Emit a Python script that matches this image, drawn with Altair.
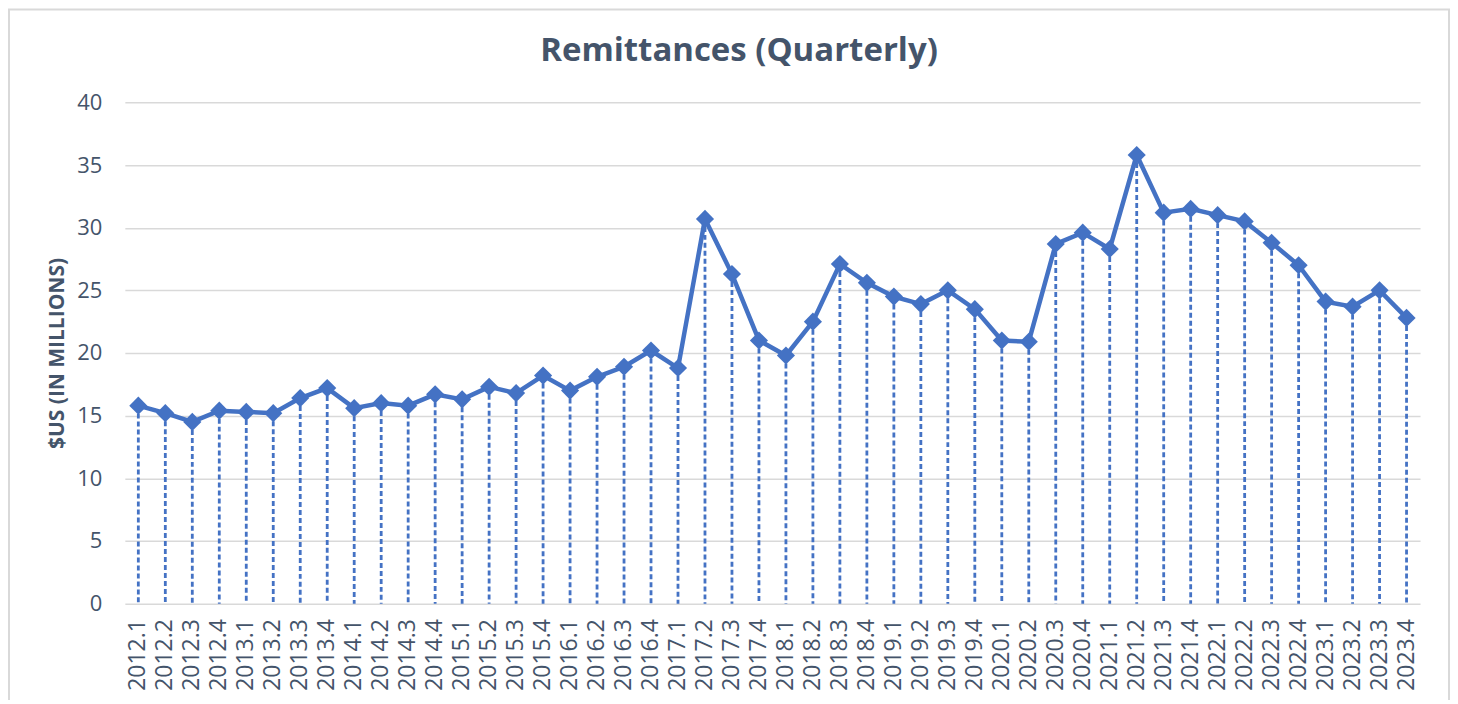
import altair as alt
import pandas as pd

quarters = [f"{y}.{q}" for y in range(2012, 2024) for q in range(1, 5)]
values = [
    15.8, 15.2, 14.5, 15.4,
    15.3, 15.2, 16.4, 17.2,
    15.6, 16.0, 15.8, 16.7,
    16.3, 17.3, 16.8, 18.2,
    17.0, 18.1, 18.9, 20.2,
    18.8, 30.7, 26.3, 21.0,
    19.8, 22.5, 27.1, 25.6,
    24.5, 23.9, 25.0, 23.5,
    21.0, 20.9, 28.7, 29.6,
    28.3, 35.8, 31.2, 31.5,
    31.0, 30.5, 28.8, 27.0,
    24.1, 23.7, 25.0, 22.8,
]
title_text = ["Remittances (Quarterly)"]

df = pd.DataFrame({"quarter": quarters, "value": values})

BLUE = "#4472C4"
TEXT = "#44546A"
FONT = "Open Sans"

x_enc = alt.X(
    "quarter:N",
    sort=None,
    scale=alt.Scale(paddingInner=0, paddingOuter=0),
    axis=alt.Axis(
        title=None,
        labelAngle=270,
        labelFontSize=23,
        labelColor=TEXT,
        labelFont=FONT,
        labelPadding=15,
        domain=False,
        ticks=False,
        grid=False,
    ),
)
y_scale = alt.Scale(domain=[0, 40], nice=False)
y_enc = alt.Y(
    "value:Q",
    scale=y_scale,
    axis=alt.Axis(
        title="$US (IN MILLIONS)",
        titleFontSize=21,
        titleFontWeight="bold",
        titleColor=TEXT,
        titleFont=FONT,
        titlePadding=9,
        values=[0, 5, 10, 15, 20, 25, 30, 35, 40],
        labelFontSize=22,
        labelColor=TEXT,
        labelFont=FONT,
        labelPadding=23,
        domain=False,
        ticks=False,
        grid=True,
        gridColor="#D9D9D9",
        gridWidth=1.5,
    ),
)

base = alt.Chart(df)

rules = base.mark_rule(
    color=BLUE, strokeWidth=2.8, strokeDash=[5, 3]
).encode(x=x_enc, y=alt.Y("value:Q", scale=y_scale), y2=alt.datum(0))

line = base.mark_line(color=BLUE, strokeWidth=4.5).encode(x=x_enc, y=y_enc)

points = base.mark_point(
    shape="diamond", filled=True, size=330, color=BLUE, opacity=1
).encode(x=x_enc, y="value:Q")

one = pd.DataFrame({"title": title_text})

frame = alt.Chart(one).mark_rect(
    fill=None, stroke="#D9D9D9", strokeWidth=2
).encode(
    x=alt.value(-116), x2=alt.value(1326), y=alt.value(-93), y2=alt.value(620)
)

title = alt.Chart(one).mark_text(
    fontSize=33, fontWeight="bold", color=TEXT, font=FONT,
    align="center", baseline="alphabetic",
).encode(text="title:N", x=alt.value(615), y=alt.value(-41))

chart = alt.layer(frame, title, rules, line, points).properties(
    width=1297,
    height=502,
    autosize=alt.AutoSizeParams(type="none"),
    padding={"left": 117, "top": 94, "right": 30, "bottom": 96},
).configure_view(stroke=None)

chart.save("out.html", embed_options={"renderer": "svg", "actions": False})
